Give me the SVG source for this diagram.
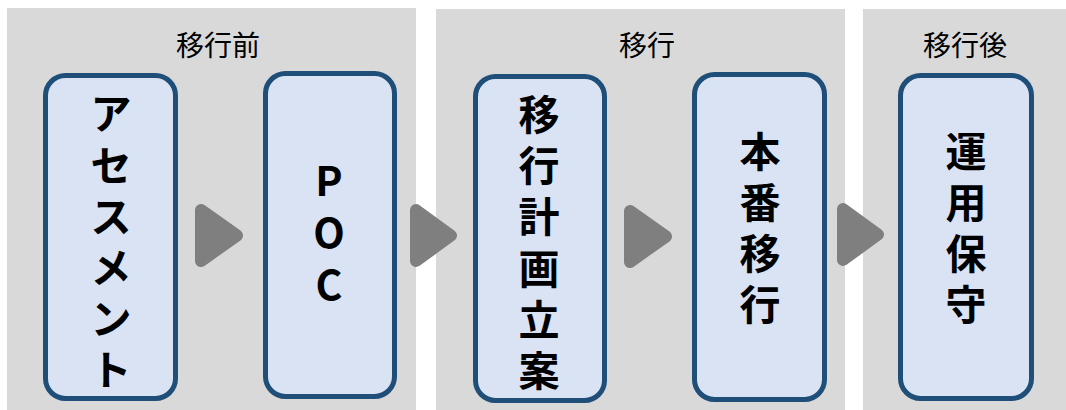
<svg xmlns="http://www.w3.org/2000/svg" width="1066" height="410" viewBox="0 0 1066 410">
<style>
.panel{fill:#d9d9d9}
.title{font-family:"Noto Sans CJK JP","Noto Sans",sans-serif;font-size:28px;fill:#000;text-anchor:middle;dominant-baseline:central}
.box{fill:#dae3f3;stroke:#1f4e79;stroke-width:5}
.lbl{font-family:"Noto Sans CJK JP","Noto Sans",sans-serif;font-size:41px;font-weight:bold;fill:#000;text-anchor:middle;dominant-baseline:central}
.arr{fill:#7f7f7f;stroke:#7f7f7f;stroke-width:12;stroke-linejoin:round}
</style>
<rect width="1066" height="410" fill="#ffffff"/>
<g id="panels">
<rect class="panel" x="7" y="8" width="409" height="402"/>
<rect class="panel" x="436" y="9" width="409" height="401"/>
<rect class="panel" x="863" y="9" width="203" height="401"/>
<text class="title" x="218" y="44">移行前</text>
<text class="title" x="647" y="44">移行</text>
<text class="title" x="965" y="44">移行後</text>
</g>
<g id="connectors">
<polygon class="arr" points="201,210 237,235.5 201,261"/>
<polygon class="arr" points="416,210 451,235.5 416,261"/>
<polygon class="arr" points="630,211 666,236.5 630,262"/>
<polygon class="arr" points="843,209 878,234.5 843,260"/>
</g>
<g id="node-assessment">
<rect class="box" x="45.5" y="75.5" width="130" height="323" rx="20"/>
<text class="lbl"><tspan x="111" y="111">ア</tspan><tspan x="111" y="163">セ</tspan><tspan x="111" y="214">ス</tspan><tspan x="111" y="265">メ</tspan><tspan x="111" y="316">ン</tspan><tspan x="111" y="367">ト</tspan></text>
</g>
<g id="node-poc">
<rect class="box" x="265.5" y="73.5" width="129" height="323" rx="20"/>
<text class="lbl"><tspan x="329" y="178">P</tspan><tspan x="329" y="230">O</tspan><tspan x="329" y="282">C</tspan></text>
</g>
<g id="node-plan">
<rect class="box" x="475.5" y="76.5" width="129" height="324" rx="20"/>
<text class="lbl"><tspan x="539" y="112">移</tspan><tspan x="539" y="163">行</tspan><tspan x="539" y="214">計</tspan><tspan x="539" y="266">画</tspan><tspan x="539" y="317">立</tspan><tspan x="539" y="368">案</tspan></text>
</g>
<g id="node-cutover">
<rect class="box" x="694.5" y="74.5" width="130" height="325" rx="20"/>
<text class="lbl"><tspan x="760" y="149">本</tspan><tspan x="760" y="200">番</tspan><tspan x="760" y="251">移</tspan><tspan x="760" y="302">行</tspan></text>
</g>
<g id="node-ops">
<rect class="box" x="900.5" y="75.5" width="131" height="323" rx="20"/>
<text class="lbl"><tspan x="966" y="149">運</tspan><tspan x="966" y="200">用</tspan><tspan x="966" y="251">保</tspan><tspan x="966" y="302">守</tspan></text>
</g>
</svg>
